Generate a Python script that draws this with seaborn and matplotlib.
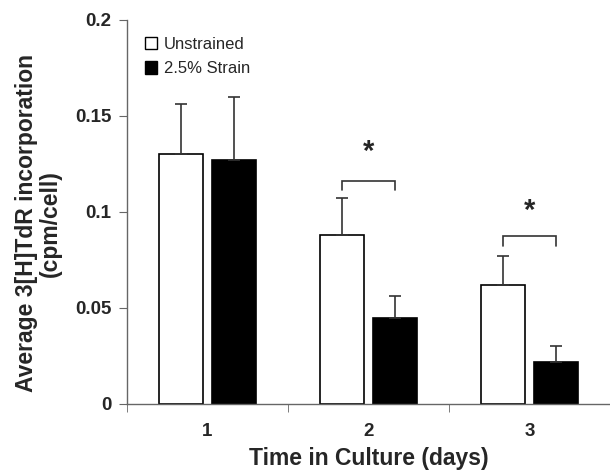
import matplotlib
matplotlib.use("Agg")
import matplotlib.pyplot as plt
from matplotlib.patches import Patch
import seaborn as sns
import pandas as pd
import numpy as np

# values
days = ["1", "2", "3"]
groups = ["Unstrained", "2.5% Strain"]
unstrained = [0.130, 0.088, 0.062]
unstrained_err = [0.026, 0.019, 0.015]
strained = [0.127, 0.045, 0.022]
strained_err = [0.033, 0.011, 0.008]

# significance brackets: (day index, bracket top, leg bottom, star y)
brackets = [(1, 0.116, 0.1115, 0.131), (2, 0.0875, 0.0825, 0.1005)]

df = pd.DataFrame({
    "day": days * 2,
    "group": [groups[0]] * 3 + [groups[1]] * 3,
    "value": unstrained + strained,
})

sns.set_style("ticks")
plt.rcParams["font.family"] = ["Liberation Sans", "DejaVu Sans"]

fig = plt.figure(figsize=(6.1, 4.73), dpi=100)
ax = fig.add_axes([0.208, 0.146, 0.792, 0.812])

sns.barplot(data=df, x="day", y="value", hue="group", hue_order=groups,
            palette=["white", "black"], edgecolor="black", linewidth=1.2,
            width=0.66, gap=0.18, errorbar=None, legend=False, ax=ax)

errs = [unstrained_err, strained_err]
for cont, err in zip(ax.containers, errs):
    xs = [b.get_x() + b.get_width() / 2 for b in cont]
    ys = [b.get_height() for b in cont]
    ax.errorbar(xs, ys, yerr=[np.zeros(len(err)), err], fmt="none",
                ecolor="#333333", elinewidth=1.2, capsize=4, capthick=1.2,
                zorder=3)

# brackets between bar centers
for i, top, bottom, star_y in brackets:
    x0 = ax.containers[0][i].get_x() + ax.containers[0][i].get_width() / 2
    x1 = ax.containers[1][i].get_x() + ax.containers[1][i].get_width() / 2
    ax.plot([x0, x0, x1, x1], [bottom, top, top, bottom], color="#333333",
            lw=1.2, solid_joinstyle="miter")
    ax.text((x0 + x1) / 2, star_y, "*", ha="center", va="center",
            fontsize=21, fontweight="bold")

ax.set_xlim(-0.5, 2.5)
ax.set_ylim(0, 0.2)
ax.set_yticks([0, 0.05, 0.1, 0.15, 0.2])
ax.set_yticklabels(["0", "0.05", "0.1", "0.15", "0.2"])
ax.set_xticks([-0.5, 0.5, 1.5, 2.5], minor=True)
ax.tick_params(axis="x", which="major", length=0, pad=14)
ax.tick_params(axis="x", which="minor", length=6, color="#666666")
ax.tick_params(axis="y", length=6, color="#666666", pad=5)
for lab in ax.get_xticklabels() + ax.get_yticklabels():
    lab.set_fontsize(13.5)
    lab.set_fontweight("bold")

sns.despine(ax=ax)
for s in ["left", "bottom"]:
    ax.spines[s].set_color("#666666")
    ax.spines[s].set_linewidth(1.0)

ax.set_xlabel("Time in Culture (days)", fontsize=16.5, fontweight="bold",
              labelpad=5)
ax.set_ylabel("Average 3[H]TdR incorporation\n(cpm/cell)", fontsize=16.5,
              fontweight="bold", linespacing=1.05)
ax.yaxis.set_label_coords(-0.135, 0.47)

handles = [Patch(facecolor="white", edgecolor="black", label=groups[0]),
           Patch(facecolor="black", edgecolor="black", label=groups[1])]
ax.legend(handles=handles, loc="upper left", bbox_to_anchor=(0.037, 0.955),
          frameon=False, fontsize=12, handlelength=0.75, handleheight=0.75,
          handletextpad=0.4, labelspacing=0.55, borderaxespad=0,
          borderpad=0)

fig.savefig("out.png", dpi=100)
